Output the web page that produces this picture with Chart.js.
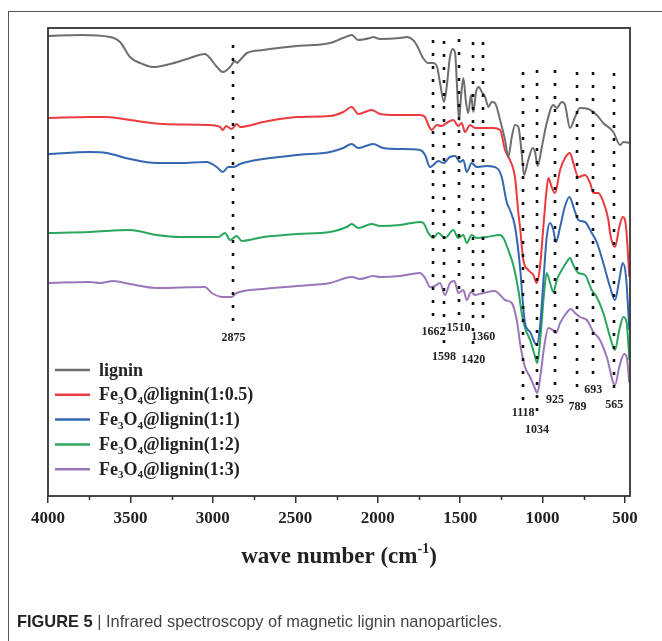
<!DOCTYPE html>
<html>
<head>
<meta charset="utf-8">
<script src="https://cdn.jsdelivr.net/npm/chart.js@4.4.1/dist/chart.umd.min.js"></script>
<style>
  html, body { margin: 0; padding: 0; background: #fff; overflow: hidden; }
  body { width: 662px; height: 641px; position: relative; }
  #frame { position: absolute; left: 8px; top: 11px; width: 700px; height: 700px; border: 1px solid #555; }
  #wrap { position: absolute; left: 0; top: 0; width: 662px; height: 641px; }
  #caption { position: absolute; left: 17px; top: 612px; font: 16.4px "Liberation Sans", Arial, sans-serif; color: #444; white-space: nowrap; }
  #caption b { color: #222; }
</style>
</head>
<body>
<div id="frame"></div>
<div id="wrap"><canvas id="ftir"></canvas></div>
<div id="caption"><b>FIGURE 5</b> | Infrared spectroscopy of magnetic lignin nanoparticles.</div>
<script>
// spectra (wavenumber in cm-1, transmittance in arbitrary offset units)
const ligninWn = [4000, 3800, 3624, 3563, 3503, 3442, 3363, 3260, 3157, 3048, 3029, 2975, 2938, 2896, 2866, 2854, 2835, 2793, 2696, 2490, 2289, 2211, 2156, 2120, 2047, 2029, 1986, 1865, 1822, 1786, 1764, 1725, 1695, 1665, 1640, 1622, 1598, 1582, 1562, 1545, 1531, 1519, 1507, 1495, 1481, 1464, 1451, 1434, 1420, 1404, 1387, 1369, 1349, 1329, 1309, 1289, 1258, 1228, 1208, 1187, 1167, 1147, 1127, 1113, 1087, 1060, 1046, 1030, 1005, 975, 935, 914, 884, 864, 834, 803, 773, 723, 672, 632, 571, 530, 510, 474];
const ligninT = [460, 461, 459, 454, 439, 433, 429, 432, 437, 442, 440, 429, 424, 429, 435, 433, 436, 443, 446, 450, 453, 458, 461, 456, 458, 459, 457, 458, 459, 456, 451, 438, 433, 433, 429, 413, 394, 409, 439, 447, 443, 409, 376, 399, 418, 393, 383, 401, 384, 404, 409, 404, 399, 389, 394, 393, 376, 356, 339, 359, 371, 369, 343, 321, 336, 348, 344, 330, 349, 373, 391, 388, 394, 391, 368, 379, 388, 387, 381, 373, 364, 351, 354, 353];

const redWn = [4000, 3745, 3644, 3503, 3302, 3037, 2957, 2940, 2920, 2886, 2855, 2835, 2694, 2491, 2289, 2209, 2158, 2118, 2037, 1986, 1885, 1744, 1713, 1693, 1673, 1642, 1612, 1582, 1542, 1511, 1491, 1471, 1440, 1410, 1360, 1299, 1258, 1228, 1198, 1167, 1147, 1137, 1117, 1087, 1056, 1036, 1016, 996, 979, 965, 945, 925, 894, 864, 834, 814, 783, 743, 712, 692, 662, 632, 601, 591, 561, 535, 514, 494, 474];
const redT = [378, 379, 379, 376, 372, 371, 369, 366, 370, 367, 372, 369, 374, 379, 380, 384, 389, 382, 386, 382, 381, 381, 379, 371, 366, 371, 370, 373, 376, 370, 373, 364, 371, 368, 368, 368, 366, 346, 336, 318, 283, 269, 236, 226, 221, 213, 229, 268, 301, 318, 309, 303, 326, 338, 343, 333, 319, 321, 313, 303, 303, 294, 276, 263, 249, 269, 279, 269, 219];

const blueWn = [4000, 3745, 3644, 3503, 3341, 3199, 3037, 2977, 2940, 2906, 2872, 2835, 2694, 2491, 2289, 2209, 2158, 2118, 2027, 1966, 1865, 1744, 1713, 1683, 1663, 1633, 1602, 1562, 1531, 1501, 1481, 1460, 1430, 1400, 1339, 1278, 1248, 1218, 1198, 1167, 1137, 1121, 1107, 1076, 1036, 1016, 996, 975, 955, 935, 919, 894, 864, 837, 809, 783, 743, 702, 672, 632, 591, 561, 535, 514, 494, 474];
const blueT = [342, 344, 343, 337, 333, 333, 334, 329, 324, 329, 329, 332, 337, 341, 344, 348, 352, 348, 352, 348, 347, 346, 341, 329, 331, 335, 333, 339, 340, 334, 336, 324, 333, 329, 330, 328, 319, 294, 286, 269, 229, 196, 173, 164, 151, 169, 213, 259, 273, 266, 254, 269, 290, 299, 287, 276, 274, 263, 254, 233, 209, 196, 216, 233, 219, 166];

const greenWn = [4000, 3745, 3503, 3341, 3199, 2967, 2926, 2896, 2855, 2825, 2694, 2491, 2289, 2188, 2158, 2118, 2037, 1986, 1865, 1744, 1723, 1693, 1663, 1633, 1592, 1542, 1511, 1481, 1460, 1430, 1400, 1339, 1258, 1238, 1208, 1178, 1147, 1127, 1107, 1076, 1052, 1032, 1011, 991, 975, 955, 935, 914, 884, 854, 834, 814, 783, 743, 702, 672, 632, 591, 561, 535, 510, 490, 474];
const greenT = [263, 264, 266, 261, 259, 259, 263, 256, 260, 255, 259, 262, 264, 269, 272, 268, 272, 270, 271, 274, 273, 263, 258, 263, 258, 266, 258, 261, 253, 261, 258, 259, 261, 258, 246, 231, 206, 183, 168, 156, 143, 133, 163, 203, 223, 213, 204, 216, 226, 234, 238, 231, 223, 221, 206, 199, 183, 159, 146, 166, 179, 173, 136];

const purpleWn = [4000, 3745, 3685, 3604, 3503, 3341, 3048, 3007, 2937, 2886, 2855, 2694, 2491, 2289, 2158, 2107, 2027, 1986, 1865, 1744, 1713, 1683, 1653, 1622, 1592, 1562, 1535, 1511, 1481, 1460, 1434, 1410, 1360, 1289, 1258, 1228, 1187, 1157, 1133, 1107, 1076, 1050, 1032, 1011, 991, 965, 939, 919, 894, 864, 829, 803, 773, 732, 692, 652, 611, 561, 535, 506, 490, 474];
const purpleT = [213, 214, 213, 215, 212, 208, 209, 203, 199, 199, 203, 207, 210, 213, 219, 217, 220, 219, 220, 223, 218, 209, 210, 213, 201, 213, 215, 203, 206, 196, 204, 201, 203, 205, 201, 196, 193, 176, 149, 129, 119, 109, 103, 123, 149, 168, 166, 163, 173, 181, 187, 183, 179, 176, 164, 156, 139, 111, 129, 142, 139, 113];

const seriesNames = ['lignin', 'Fe_3O_4@lignin(1:0.5)', 'Fe_3O_4@lignin(1:1)', 'Fe_3O_4@lignin(1:2)', 'Fe_3O_4@lignin(1:3)'];
const seriesColors = ['#6e6e6e', '#ec3a3f', '#3466b2', '#2aa65e', '#9b76ba'];

// marked bands: wavenumber, and the span of the dotted guide (same units as the spectra)
const peakWn = [2875, 1662, 1598, 1510, 1420, 1360, 1118, 1034, 925, 789, 693, 565];
const peakTop = [451, 456, 455, 457, 454, 454, 424, 426, 426, 424, 424, 423];
const peakBottom = [168, 174, 149, 178, 146, 169, 93, 76, 106, 99, 116, 101];

const xTicks = [500, 1000, 1500, 2000, 2500, 3000, 3500, 4000];
const xMinorTicks = [750, 1250, 1750, 2250, 2750, 3250, 3750];

const SERIF = '"Liberation Serif", "Times New Roman", serif';

function pts(wn, t) {
  return wn.map((w, i) => ({ x: w, y: t[i] }));
}

function richText(ctx, str, x0, yMid, size, measureOnly) {
  let xx = x0;
  str.split(/(_\d|\^[-\d]+)/).forEach(p => {
    if (!p) return;
    if (p[0] === '_' || p[0] === '^') {
      const s = p.slice(1);
      ctx.font = 'bold ' + Math.round(size * 0.62) + 'px ' + SERIF;
      const dy = p[0] === '_' ? size * 0.3 : -size * 0.32;
      if (!measureOnly) ctx.fillText(s, xx, yMid + dy);
      xx += ctx.measureText(s).width;
    } else {
      ctx.font = 'bold ' + size + 'px ' + SERIF;
      if (!measureOnly) ctx.fillText(p, xx, yMid);
      xx += ctx.measureText(p).width;
    }
  });
  return xx - x0;
}

const decor = {
  id: 'decor',
  afterDatasetsDraw(chart) {
    const { ctx, scales: { x, y } } = chart;
    ctx.save();
    ctx.strokeStyle = '#111';
    ctx.lineWidth = 2.6;
    ctx.setLineDash([3, 10]);
    peakWn.forEach((wn, i) => {
      const px = Math.round(x.getPixelForValue(wn));
      ctx.beginPath();
      ctx.moveTo(px, y.getPixelForValue(peakTop[i]));
      ctx.lineTo(px, y.getPixelForValue(peakBottom[i]));
      ctx.stroke();
    });
    ctx.setLineDash([]);
    ctx.fillStyle = '#222';
    ctx.font = 'bold 12px ' + SERIF;
    ctx.textAlign = 'center';
    ctx.textBaseline = 'middle';
    peakWn.forEach((wn, i) => {
      ctx.fillText(String(wn), x.getPixelForValue(wn), y.getPixelForValue(peakBottom[i]) + 10);
    });
    ctx.restore();
  },
  afterDraw(chart) {
    const { ctx, chartArea: a, scales: { x } } = chart;
    ctx.save();
    // plot frame
    ctx.strokeStyle = '#333';
    ctx.lineWidth = 1.8;
    ctx.strokeRect(a.left, a.top, a.right - a.left, a.bottom - a.top);
    // minor ticks
    ctx.lineWidth = 1.5;
    xMinorTicks.forEach(v => {
      const px = Math.round(x.getPixelForValue(v)) + 0.5;
      ctx.beginPath();
      ctx.moveTo(px, a.bottom);
      ctx.lineTo(px, a.bottom + 4);
      ctx.stroke();
    });
    // axis title with superscript
    ctx.fillStyle = '#222';
    ctx.textAlign = 'left';
    ctx.textBaseline = 'middle';
    const title = 'wave number (cm^-1)';
    const w = richText(ctx, title, 0, 0, 23, true);
    richText(ctx, title, (a.left + a.right) / 2 - w / 2, 557, 23, false);
    // legend
    seriesNames.forEach((name, i) => {
      const ly = 370 + i * 24.8;
      ctx.strokeStyle = seriesColors[i];
      ctx.lineWidth = 2.5;
      ctx.beginPath();
      ctx.moveTo(55, ly);
      ctx.lineTo(90, ly);
      ctx.stroke();
      ctx.fillStyle = '#222';
      richText(ctx, name, 99, ly + 1, 18, false);
    });
    ctx.restore();
  }
};

const allWn = [ligninWn, redWn, blueWn, greenWn, purpleWn];
const allT = [ligninT, redT, blueT, greenT, purpleT];

new Chart(document.getElementById('ftir'), {
  type: 'line',
  data: {
    datasets: seriesNames.map((name, i) => ({
      label: name.replace(/_/g, ''),
      data: pts(allWn[i], allT[i]),
      borderColor: seriesColors[i],
      borderWidth: 2,
      pointRadius: 0,
      fill: false,
      cubicInterpolationMode: 'monotone',
    })),
  },
  options: {
    responsive: true,
    maintainAspectRatio: false,
    animation: false,
    layout: { padding: { left: 48, top: 28, right: 32, bottom: 105 } },
    plugins: {
      legend: { display: false },
      tooltip: { enabled: false },
    },
    scales: {
      x: {
        type: 'linear',
        reverse: true,
        min: 470,
        max: 4000,
        afterBuildTicks(scale) {
          scale.ticks = xTicks.map(v => ({ value: v }));
        },
        afterFit(scale) {
          scale.height = 40;
        },
        border: { display: false },
        grid: { drawOnChartArea: false, drawTicks: true, tickLength: 7, color: '#333', lineWidth: 1.5 },
        ticks: {
          autoSkip: false,
          maxRotation: 0,
          padding: 5,
          color: '#222',
          font: { family: SERIF, size: 17, weight: 'bold' },
          callback: v => String(v),
        },
      },
      y: {
        display: false,
        min: 0,
        max: 468,
      },
    },
  },
  plugins: [decor],
});
</script>
</body>
</html>
